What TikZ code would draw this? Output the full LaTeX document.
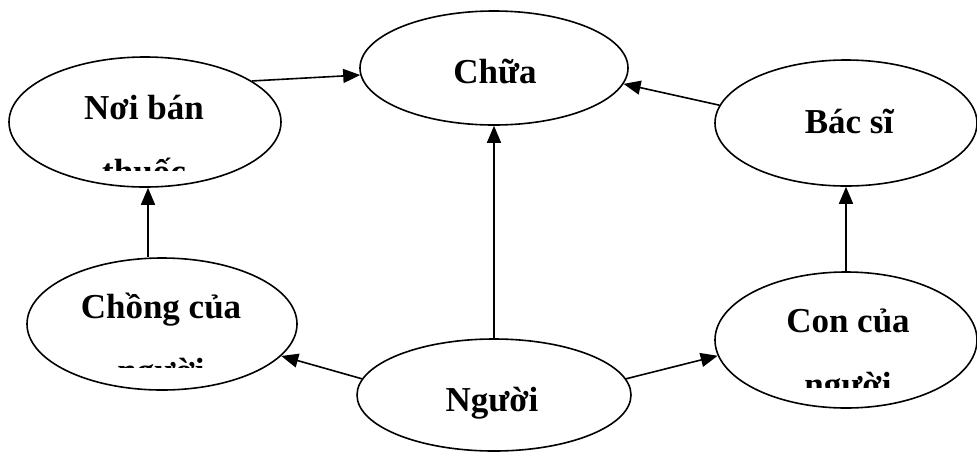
\documentclass[tikz,border=0pt]{standalone}
\usepackage{fontspec}
\setmainfont{Liberation Serif}
\usetikzlibrary{shapes.geometric,arrows.meta}

\tikzset{
  ell/.style={ellipse, draw, line width=1.6pt, inner sep=0pt},
  lbl/.style={anchor=base, inner sep=0pt, font=\fontsize{35}{40}\selectfont\bfseries},
  arr/.style={line width=1.6pt, -{Triangle[length=17pt,width=14pt]}},
}

\begin{document}
\begin{tikzpicture}[x=1pt,y=-1pt]
\useasboundingbox (0,0) rectangle (977,451);

% ellipses
\node[ell, minimum width=268pt, minimum height=114pt] (chua) at (494,68) {};
\node[ell, minimum width=272pt, minimum height=130pt] (noi)  at (145,122) {};
\node[ell, minimum width=262pt, minimum height=126pt] (bacsi) at (846,123) {};
\node[ell, minimum width=270pt, minimum height=132pt] (chong) at (162,324) {};
\node[ell, minimum width=262pt, minimum height=136pt] (con)  at (846,340) {};
\node[ell, minimum width=274pt, minimum height=112pt] (nguoi) at (494,395) {};

% labels
\node[lbl] (tchua)  at (495,83)  {Chữa};
\node[lbl] (tbacsi) at (849,133) {Bác sĩ};
\node[lbl] (tnguoi) at (492,411) {Người};
\node[lbl] (tnoi)   at (144,119) {Nơi bán};
\node[lbl] (tchong) at (161,318) {Chồng của};
\node[lbl] (tcon)   at (848,332) {Con của};

% second lines, cut off by their text boxes
\begin{scope}
  \clip (60,140) rectangle (230,170);
  \node[lbl] (tnoi2) at (144,183) {thuốc};
\end{scope}
\begin{scope}
  \clip (60,340) rectangle (260,367);
  \node[lbl] (tchong2) at (161,382) {người};
\end{scope}
\begin{scope}
  \clip (760,350) rectangle (940,387);
  \node[lbl] (tcon2) at (848,396) {người};
\end{scope}

% connectors
\coordinate (lx) at (148,0);
\draw[arr] (noi.21) -- (chua.183);
\draw[arr] (bacsi.172) -- (chua.353);
\draw[arr] (nguoi.north) -- (chua.south);
\draw[arr] (nguoi.173) -- (chong.345);
\draw[arr] (nguoi.7) -- (con.187);
\draw[arr] (chong.north -| lx) -- (noi.south -| lx);
\draw[arr] (con.north) -- (bacsi.south);
\end{tikzpicture}
\end{document}
